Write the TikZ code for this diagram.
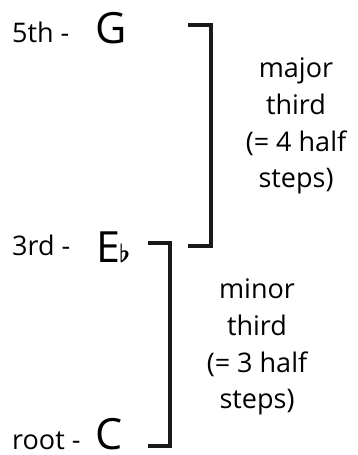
\documentclass[tikz,border=0pt]{standalone}
\usepackage{fontspec}
\setmainfont{Open Sans}
\usetikzlibrary{positioning}

\begin{document}
\begin{tikzpicture}[x=1pt,y=-1pt,
          degree/.style={anchor=base west,inner sep=0pt,
                         font=\fontsize{27}{33}\selectfont},
          note/.style={anchor=base west,inner sep=0pt,
                       font=\fontsize{43}{50}\selectfont},
          interval/.style={align=center,inner sep=0pt,
                           font=\fontsize{27}{36.7}\selectfont},
          bracket/.style={line width=3.1pt,black!90}]
        \useasboundingbox (0,0) rectangle (357,455);
        % chord tones
        \node[degree] (fifth) at (12,42) {5th -};
        \node[note] (G) at (95,43) {G};
        \node[degree] (third) at (12,255) {3rd -};
        \node[note] (Eb) at (96,262)
          {E\kern-1pt{\fontsize{32}{32}\selectfont\boldmath$\flat$}};
        \node[degree] (root) at (12,449) {root -};
        \node[note] (C) at (95,449) {C};
        % bracket ends
        \coordinate (uptop) at (188,25);
        \coordinate (upbot) at (188,246);
        \coordinate (lotop) at (148,243);
        \coordinate (lobot) at (148,446);
        \draw[bracket] (uptop) -- ++(23,0) |- (upbot);
        \draw[bracket] (lotop) -- ++(22,0) |- (lobot);
        % intervals
        \node[interval] (major) at (296,126) {major\\third\\(= 4 half\\steps)};
        \node[interval] (minor) at (257,347) {minor\\third\\(= 3 half\\steps)};
      \end{tikzpicture}
\end{document}
